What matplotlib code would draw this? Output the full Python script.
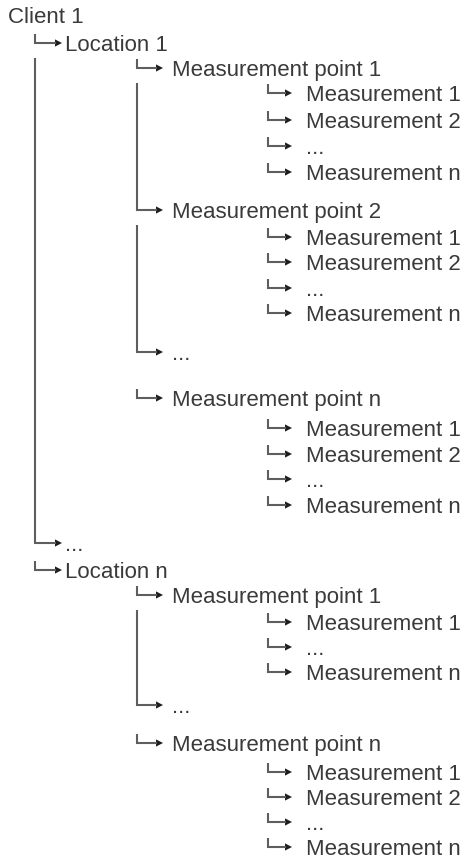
import matplotlib.pyplot as plt

# tree rows, top to bottom: depth in the hierarchy and the label
levels = [0, 1, 2, 3, 3, 3, 3, 2, 3, 3, 3, 3, 2, 2, 3, 3, 3, 3,
          1, 1, 2, 3, 3, 3, 2, 2, 3, 3, 3, 3]
labels = ["Client 1", "Location 1",
          "Measurement point 1", "Measurement 1", "Measurement 2", "...", "Measurement n",
          "Measurement point 2", "Measurement 1", "Measurement 2", "...", "Measurement n",
          "...",
          "Measurement point n", "Measurement 1", "Measurement 2", "...", "Measurement n",
          "...", "Location n",
          "Measurement point 1", "Measurement 1", "...", "Measurement n",
          "...",
          "Measurement point n", "Measurement 1", "Measurement 2", "...", "Measurement n"]

# layout (pixels)
row_y = [15, 43, 68, 93, 120, 146, 172, 210, 237, 262, 288, 313, 352, 398,
         428, 454, 479, 505, 543, 570, 595, 622, 647, 672, 705, 743,
         772, 797, 822, 847]
elbow_x = [None, 35, 137, 268]
arrow_len = [None, 27, 26, 24]
text_x = [8, 65, 172, 306]

W, H = 466, 861
line_c = '#5e5e5e'
head_c = '#1e1e1e'
text_c = '#3a3a3a'

fig = plt.figure(figsize=(W / 100, H / 100), dpi=100)
ax = fig.add_axes([0, 0, 1, 1])
ax.set_xlim(0, W)
ax.set_ylim(H, 0)
ax.axis('off')


def prev_sibling(i):
    for j in range(i - 1, -1, -1):
        if levels[j] < levels[i]:
            return None
        if levels[j] == levels[i]:
            return j
    return None


for i, (lev, lab) in enumerate(zip(levels, labels)):
    y = row_y[i]
    if lev > 0:
        x = elbow_x[lev]
        j = prev_sibling(i)
        has_kids = j is not None and levels[j + 1] > levels[j]
        top = row_y[j] + 15 if has_kids else y - 9
        tip = x + arrow_len[lev]
        ax.plot([x, x, tip - 6], [top, y, y], color=line_c, lw=1.5,
                solid_joinstyle='miter', solid_capstyle='butt')
        ax.fill([tip - 7, tip, tip - 7], [y - 3.6, y, y + 3.6], color=head_c, lw=0)
    ax.text(text_x[lev], y + 8, lab, fontsize=16, color=text_c,
            family=['Liberation Sans', 'DejaVu Sans'], va='baseline', ha='left')

fig.savefig('out.png', dpi=100)
